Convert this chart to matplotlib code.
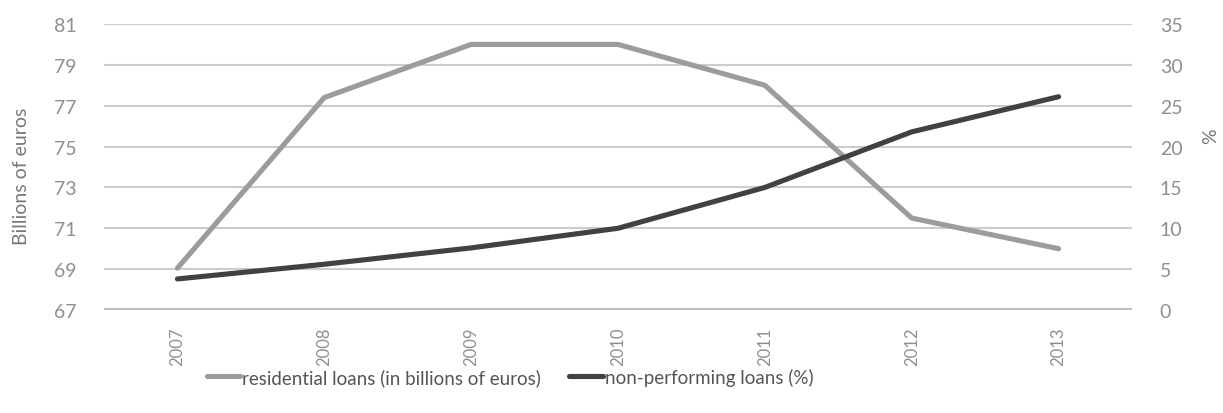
import matplotlib.pyplot as plt
import numpy as np

years = ['2007', '2008', '2009', '2010', '2011', '2012', '2013']
residential = [69.05, 77.4, 80.0, 80.0, 78.0, 71.5, 70.0]
npl = [3.8, 5.6, 7.6, 10.0, 15.0, 21.8, 26.1]

plt.rcParams['font.family'] = ['Lato', 'DejaVu Sans']
txt = '#8f8f8f'

fig = plt.figure(figsize=(12.23, 4.14), dpi=100)
ax = fig.add_axes([104 / 1223, 1 - 311 / 414, 1028 / 1223, 286 / 414])
ax2 = ax.twinx()

x = np.arange(len(years))
l1, = ax.plot(x, residential, color='#9c9c9f', lw=3.7, solid_capstyle='round', zorder=3)
l2, = ax2.plot(x, npl, color='#3f4146', lw=3.7, solid_capstyle='round', zorder=3)

ax.set_xlim(-0.5, 6.5)
ax.set_ylim(67, 81)
ax.set_yticks(range(67, 82, 2))
ax2.set_ylim(0, 35)
ax2.set_yticks(range(0, 36, 5))

ax.set_axisbelow(True)
ax.grid(axis='y', color='#cccccc', lw=1.5)
for a in (ax, ax2):
    for s in a.spines.values():
        s.set_visible(False)
ax.axhline(67, color='#bbbbbb', lw=3, zorder=1)

ax.set_xticks(x)
ax.set_xticklabels(years, rotation=90, fontsize=12, color=txt)
ax.tick_params(axis='x', length=0, pad=12)
ax.tick_params(axis='y', length=0, pad=20, labelsize=14, labelcolor=txt)
ax2.tick_params(axis='y', length=0, pad=20, labelsize=14, labelcolor=txt)

ax.set_ylabel('Billions of euros', fontsize=14, color='#777777')
ax.yaxis.set_label_coords(-0.072, 0.47)
ax2.set_ylabel('%', fontsize=14, color='#777777')
ax2.yaxis.set_label_coords(1.068, 0.61)

fig.legend([l1, l2], ['residential loans (in billions of euros)', 'non-performing loans (%)'],
           loc='center', bbox_to_anchor=(0.417, 1 - 378 / 414), ncol=2, frameon=False,
           fontsize=13.5, labelcolor='#555555', handlelength=1.8, handletextpad=0.1,
           columnspacing=1.5)

fig.savefig('out.png', dpi=100)
